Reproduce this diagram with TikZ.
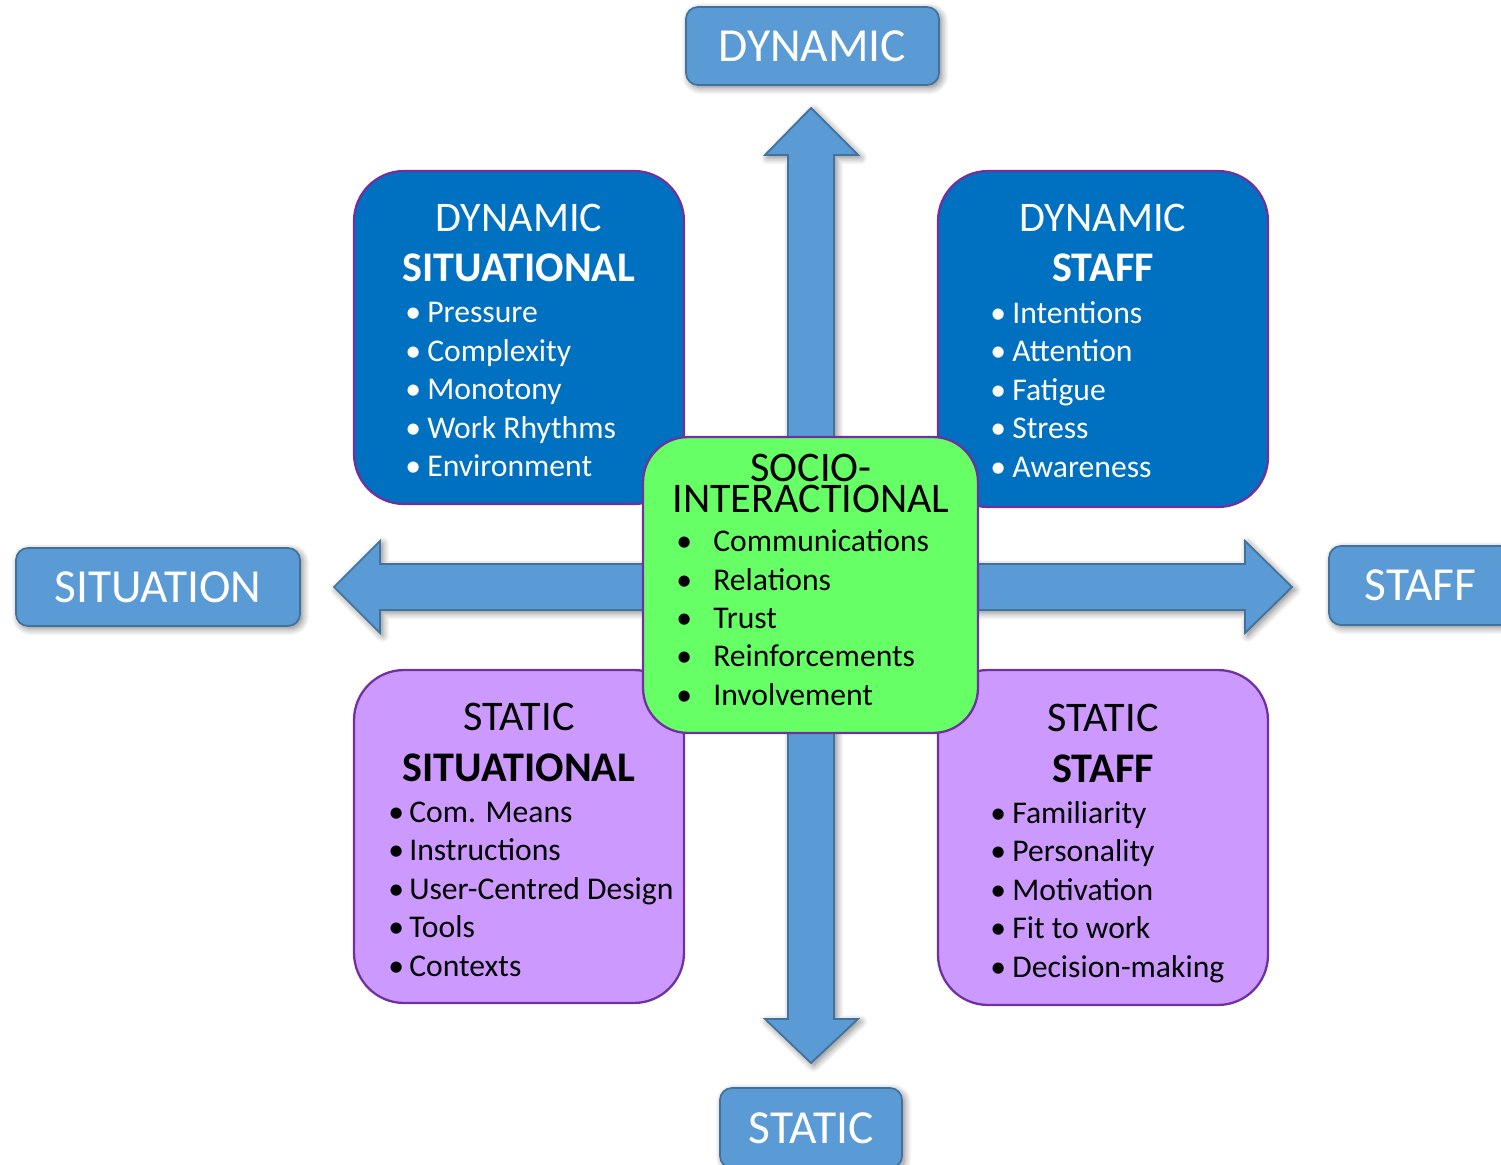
\documentclass[tikz,border=0pt]{standalone}
\usepackage{fontspec}
\setmainfont{Carlito}
\usetikzlibrary{shadows.blur}

\definecolor{axisfill}{HTML}{5B9BD5}
\definecolor{axisline}{HTML}{41719C}
\definecolor{dynfill}{HTML}{0070C0}
\definecolor{statfill}{HTML}{CC99FF}
\definecolor{quadline}{HTML}{7030A0}
\definecolor{sociofill}{HTML}{66FF66}

\newcommand{\bul}[2]{\makebox[#1][l]{\textbullet}#2}

\begin{document}
\begin{tikzpicture}[x=0.02cm, y=-0.02cm,
    softshadow/.style={blur shadow={shadow blur steps=10, shadow xshift=1.5pt, shadow yshift=-1.5pt, shadow blur radius=4pt, shadow opacity=50}},
    axisbox/.style={draw=axisline, line width=1pt, fill=axisfill, rounded corners=0.24cm, text=white,
                    font=\fontsize{27}{30}\selectfont, softshadow},
    blockarrow/.style={draw=axisline, line width=1pt, fill=axisfill, softshadow},
    quad/.style={draw=quadline, line width=1.3pt, rounded corners=1cm, minimum width=6.6cm, inner sep=0pt},
    head/.style={anchor=base, inner sep=0pt, font=\fontsize{24}{28}\selectfont},
    boldhead/.style={head, font=\fontsize{24}{28}\selectfont\bfseries},
    item/.style={anchor=base west, inner sep=0pt, font=\fontsize{18}{22}\selectfont}]
    \useasboundingbox (0,0) rectangle (1501,1165);

    % axis labels
    \node[axisbox, minimum width=5.06cm, minimum height=1.56cm] (dyn) at (812.5,46) {DYNAMIC};
    \node[axisbox, minimum width=5.68cm, minimum height=1.56cm] (sit) at (158,587) {SITUATION};
    \node[axisbox, minimum width=3.66cm, minimum height=1.58cm] (stf) at (1420.5,585.5) {STAFF};
    \node[axisbox, minimum width=3.64cm, minimum height=1.6cm] (sta) at (811,1128) {STATIC};

    % block arrows
    \draw[blockarrow] (788,155) -- (765,155) -- (811,108) -- (858,155) -- (834,155)
        -- (834,1019) -- (858,1019) -- (811,1063) -- (765,1019) -- (788,1019) -- cycle;
    \draw[blockarrow] (380,564) -- (380,541) -- (334,587) -- (380,633) -- (380,610)
        -- (1245,610) -- (1245,633) -- (1292,587) -- (1245,541) -- (1245,564) -- cycle;

    % quadrants
    \node[quad, fill=dynfill, minimum height=6.66cm] (dsit) at (519,337.5) {};
    \node[quad, fill=dynfill, minimum height=6.72cm] (dstf) at (1103,339) {};
    \node[quad, fill=statfill, minimum height=6.66cm] (ssit) at (519,836.5) {};
    \node[quad, fill=statfill, minimum height=6.7cm] (sstf) at (1103,837.5) {};

    \node[head, text=white] (dsit1) at (519,232) {DYNAMIC};
    \node[boldhead, text=white] (dsit2) at (519,282) {SITUATIONAL};
    \foreach \t [count=\i from 0] in {Pressure,Complexity,Monotony,Work Rhythms,Environment}
        \node[item, text=white] (dsitl\i) at (405,{323+38.5*\i}) {\bul{0.44cm}{\t}};

    \node[head, text=white] (dstf1) at (1103,232) {DYNAMIC};
    \node[boldhead, text=white] (dstf2) at (1103,282) {STAFF};
    \foreach \t [count=\i from 0] in {Intentions,Attention,Fatigue,Stress,Awareness}
        \node[item, text=white] (dstfl\i) at (990,{323.5+38.5*\i}) {\bul{0.44cm}{\t}};

    \node[head] (ssit1) at (519,730) {STATIC};
    \node[boldhead] (ssit2) at (519,781) {SITUATIONAL};
    \foreach \t [count=\i from 0] in {Com. Means,Instructions,User-Centred Design,Tools,Contexts}
        \node[item] (ssitl\i) at (388,{822+38.5*\i}) {\bul{0.42cm}{\t}};

    \node[head] (sstf1) at (1103,731) {STATIC};
    \node[boldhead] (sstf2) at (1103,782) {STAFF};
    \foreach \t [count=\i from 0] in {Familiarity,Personality,Motivation,Fit to work,Decision-making}
        \node[item] (sstfl\i) at (990,{823+38.5*\i}) {\bul{0.44cm}{\t}};

    % centre
    \node[quad, fill=sociofill, rounded corners=0.9cm, minimum width=6.7cm, minimum height=5.92cm] (socio) at (810.5,585) {};
    \node[head, text depth=0pt] (socio1) at (811,482) {SOCIO-};
    \node[head] (socio2) at (811,513) {INTERACTIONAL};
    \foreach \t [count=\i from 0] in {Communications,Relations,Trust,Reinforcements,Involvement}
        \node[item] (sociol\i) at (676,{552+38.3*\i}) {\bul{0.74cm}{\t}};
\end{tikzpicture}
\end{document}
